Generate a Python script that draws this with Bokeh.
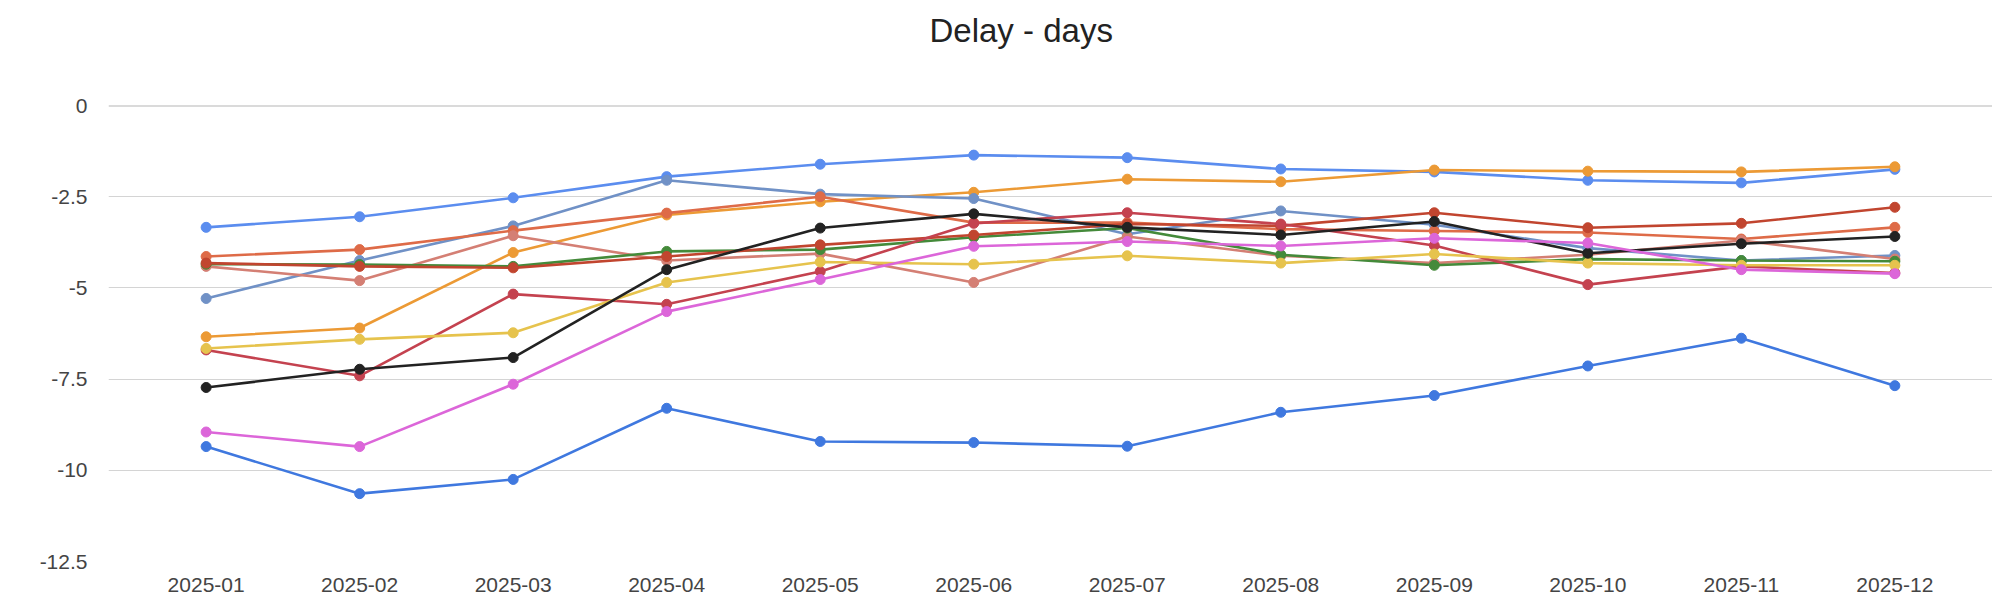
from bokeh.plotting import figure
from bokeh.models import FactorRange, Range1d, FixedTicker, Span, Title
from bokeh.embed import file_html
from bokeh.resources import INLINE

months = ["2025-01", "2025-02", "2025-03", "2025-04", "2025-05", "2025-06",
          "2025-07", "2025-08", "2025-09", "2025-10", "2025-11", "2025-12"]

y_ticks = [-12.5, -10, -7.5, -5, -2.5, 0]
y_tick_labels = ["-12.5", "-10", "-7.5", "-5", "-2.5", "0"]

title_text = "Delay - days"

s_blue_top = [-3.34, -3.05, -2.53, -1.95, -1.61, -1.36, -1.43, -1.74, -1.82, -2.05, -2.12, -1.75]
s_orange = [-6.34, -6.10, -4.03, -3.00, -2.64, -2.38, -2.02, -2.09, -1.77, -1.80, -1.82, -1.68]
s_steel = [-5.29, -4.25, -3.30, -2.05, -2.43, -2.55, -3.53, -2.89, -3.27, -3.91, -4.25, -4.11]
s_orange_red = [-4.14, -3.95, -3.43, -2.95, -2.50, -3.21, -3.21, -3.39, -3.44, -3.48, -3.66, -3.34]
s_salmon = [-4.41, -4.80, -3.57, -4.25, -4.06, -4.85, -3.59, -4.12, -4.32, -4.09, -3.70, -4.21]
s_green = [-4.35, -4.36, -4.41, -4.00, -3.95, -3.61, -3.36, -4.09, -4.38, -4.21, -4.25, -4.27]
s_dark_red = [-4.32, -4.41, -4.45, -4.14, -3.82, -3.55, -3.25, -3.30, -2.94, -3.35, -3.23, -2.79]
s_crimson = [-6.70, -7.41, -5.17, -5.45, -4.55, -3.23, -2.94, -3.25, -3.84, -4.91, -4.41, -4.59]
s_yellow = [-6.66, -6.41, -6.23, -4.85, -4.29, -4.35, -4.12, -4.32, -4.07, -4.32, -4.38, -4.38]
s_black = [-7.73, -7.23, -6.91, -4.50, -3.36, -2.97, -3.34, -3.55, -3.18, -4.05, -3.79, -3.59]
s_magenta = [-8.95, -9.35, -7.64, -5.65, -4.77, -3.86, -3.73, -3.85, -3.64, -3.77, -4.50, -4.61]
s_blue_low = [-9.35, -10.64, -10.25, -8.30, -9.21, -9.24, -9.34, -8.41, -7.95, -7.14, -6.38, -7.68]

series = [
    (s_blue_top, "#5b8def"),
    (s_orange, "#ec9a35"),
    (s_steel, "#7091c6"),
    (s_orange_red, "#de6b48"),
    (s_salmon, "#d47f74"),
    (s_green, "#448a3a"),
    (s_dark_red, "#c1452f"),
    (s_crimson, "#c4424f"),
    (s_yellow, "#e6c34d"),
    (s_black, "#222222"),
    (s_magenta, "#dc66d9"),
    (s_blue_low, "#3f78df"),
]

FONT = "Liberation Sans"

p = figure(
    x_range=FactorRange(factors=months, range_padding=0.136, range_padding_units="absolute"),
    y_range=Range1d(-12.5, 0),
    width=1992, height=605,
    output_backend="svg", toolbar_location=None,
    min_border_left=108, min_border_right=0, min_border_top=0, min_border_bottom=44,
)
p.outline_line_color = None
p.background_fill_color = "white"
p.border_fill_color = "white"

# spacer panel between the frame and the title
p.add_layout(Title(text=" ", text_font_size="1px", standoff=44), "above")

p.title.text = title_text
p.title.align = "left"
p.title.offset = 821
p.title.standoff = 19
p.title.text_font = FONT
p.title.text_font_size = "33px"
p.title.text_font_style = "normal"
p.title.text_color = "#222222"

p.xgrid.grid_line_color = None
p.ygrid.ticker = FixedTicker(ticks=y_ticks)
p.ygrid.grid_line_color = "#d4d4d4"
p.ygrid.grid_line_width = 1

p.yaxis.ticker = FixedTicker(ticks=y_ticks)
p.yaxis.major_label_overrides = {t: l for t, l in zip(y_ticks, y_tick_labels)}
for ax in (p.xaxis[0], p.yaxis[0]):
    ax.axis_line_color = None
    ax.major_tick_line_color = None
    ax.minor_tick_line_color = None
    ax.major_tick_out = 0
    ax.major_tick_in = 0
    ax.major_label_text_font = FONT
    ax.major_label_text_font_size = "21px"
    ax.major_label_text_color = "#444444"
p.yaxis.major_label_standoff = 21
p.xaxis.major_label_standoff = 16

p.add_layout(Span(location=0, dimension="width", line_color="#b5b5b5", line_width=2))

for vals, color in series:
    p.line(months, vals, line_color=color, line_width=2.6)
    p.scatter(months, vals, size=10, fill_color=color, line_color=color)

open("out.html", "w").write(file_html(p, INLINE))
